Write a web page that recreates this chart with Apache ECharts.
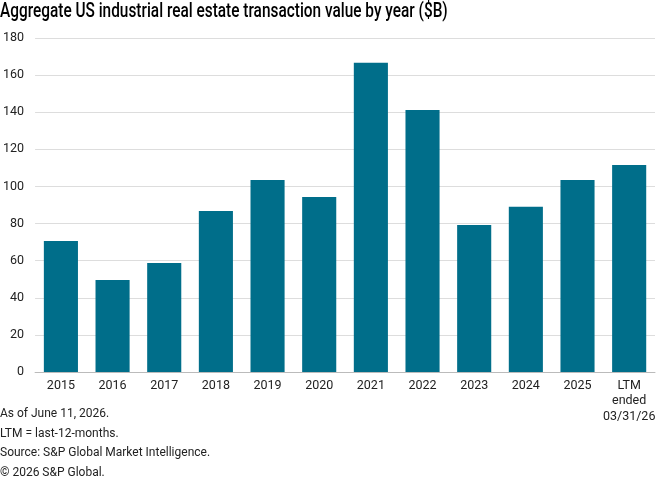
<!DOCTYPE html>
<html><head><meta charset="utf-8">
<script src="https://cdn.jsdelivr.net/npm/echarts@6/dist/echarts.min.js"></script>
<style>html,body{margin:0;padding:0;background:#fff}#c{width:662px;height:480px}</style>
</head><body><div id="c"></div>
<script>
const categories = ['2015','2016','2017','2018','2019','2020','2021','2022','2023','2024','2025','LTM\nended\n03/31/26'];
const values = [70.6, 49.6, 58.8, 86.8, 103.5, 94.3, 166.6, 141.2, 79.2, 89.0, 103.5, 111.6];
const yTicks = [0, 20, 40, 60, 80, 100, 120, 140, 160, 180];
const titleText = 'Aggregate US industrial real estate transaction value by year ($B)';
const footnotes = ['As of June 11, 2026.', 'LTM = last-12-months.', 'Source: S&P Global Market Intelligence.', '\u00a9 2026 S&P Global.'];

const font = 'Roboto, "Liberation Sans", sans-serif';
const chart = echarts.init(document.getElementById('c'), null, {renderer: 'canvas'});
chart.setOption({
  animation: false,
  textStyle: {fontFamily: font},
  graphic: [{
    type: 'text', x: 0, y: 2, scaleX: 0.77,
    style: {text: titleText, font: '500 20px ' + font, fill: '#000', textVerticalAlign: 'top', verticalAlign: 'top'}
  }].concat(footnotes.map((t, i) => ({
    type: 'text', left: 0, top: 408 + i * 19.5,
    style: {text: t, font: '12px ' + font, fill: '#222'}
  }))),
  grid: {left: 35, right: 7, top: 38, bottom: 108, containLabel: false},
  xAxis: {type: 'category', data: categories,
    axisLine: {lineStyle: {color: '#bbb', width: 1}},
    axisTick: {show: false},
    axisLabel: {color: '#222', fontSize: 12.5, lineHeight: 15.5, margin: 6, interval: 0, fontFamily: font}},
  yAxis: {type: 'value', min: yTicks[0], max: yTicks[yTicks.length - 1], interval: 20,
    axisLine: {show: false}, axisTick: {show: false},
    splitLine: {lineStyle: {color: '#ddd', width: 1}},
    axisLabel: {color: '#222', fontSize: 12.5, margin: 11, fontFamily: font}},
  series: [{type: 'bar', data: values, barWidth: '66%',
    itemStyle: {color: '#006E8A'}}]
});
</script></body></html>
